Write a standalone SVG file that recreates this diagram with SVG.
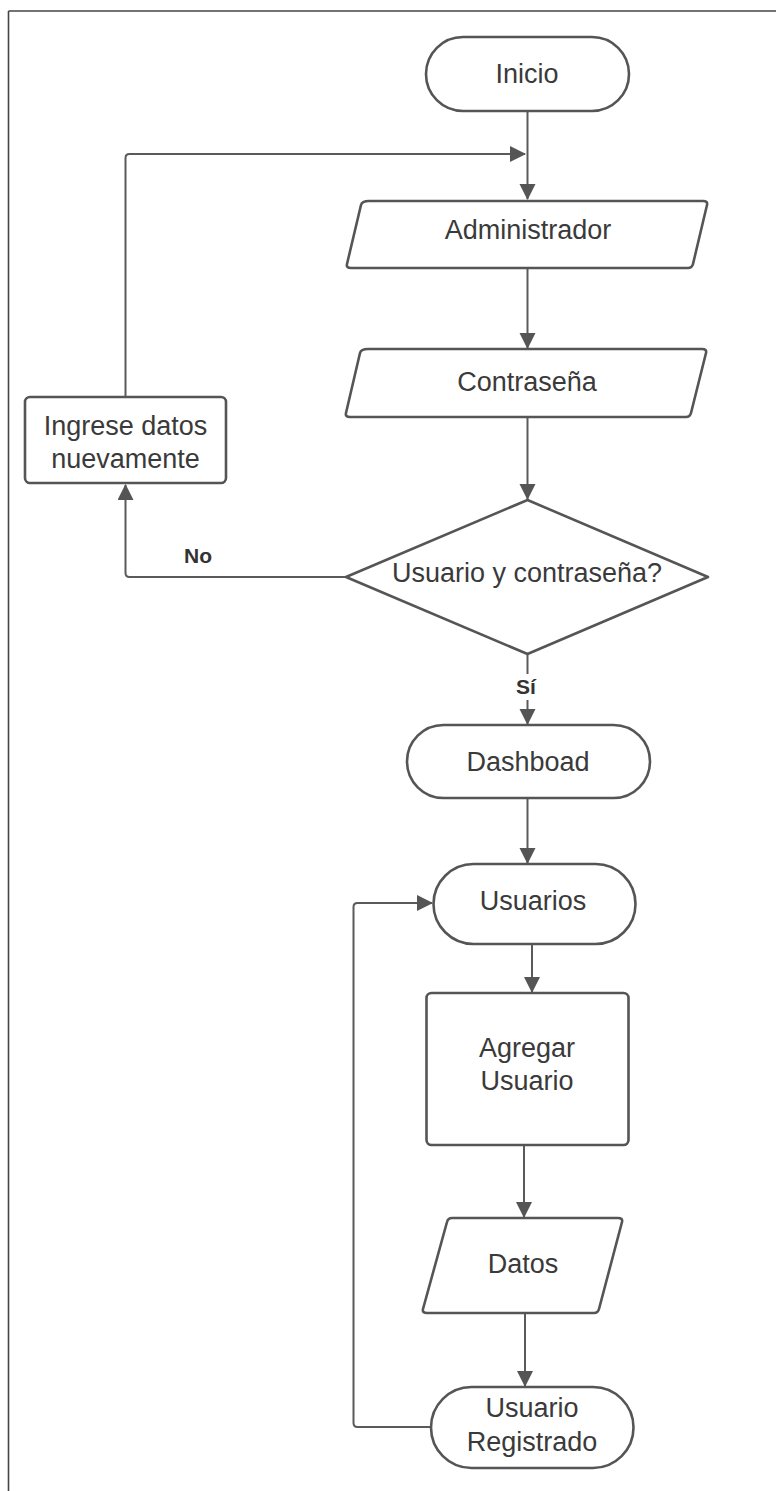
<svg xmlns="http://www.w3.org/2000/svg" width="776" height="1491" viewBox="0 0 776 1491">
<defs>
<marker id="ah" markerWidth="16" markerHeight="20" viewBox="0 0 16 20" refX="15" refY="8" orient="auto" markerUnits="userSpaceOnUse">
<path d="M0,0 L16,8 L0,16 Z" fill="#555"/>
</marker>
<style>
.shape{fill:#fff;stroke:#555;stroke-width:2.6;stroke-linejoin:round}
.conn{fill:none;stroke:#5a5a5a;stroke-width:2;stroke-linejoin:round}
.t{font-family:"Liberation Sans",Arial,sans-serif;font-size:27px;fill:#3a3a3a;text-anchor:middle}
.lbl{font-family:"Liberation Sans",Arial,sans-serif;font-size:21px;font-weight:bold;fill:#333;text-anchor:middle}
</style>
</defs>
<rect width="776" height="1491" fill="#fff"/>
<g id="frame" fill="none" stroke="#444" stroke-width="1.6">
<line x1="8.5" y1="11" x2="776" y2="11"/>
<line x1="8.5" y1="11" x2="8.5" y2="1491"/>
</g>
<g id="connectors">
<path class="conn" d="M527.5,111 V199" marker-end="url(#ah)"/>
<path class="conn" d="M125.5,397 V158 Q125.5,154 129.5,154 H525" marker-end="url(#ah)"/>
<path class="conn" d="M527.5,268 V348" marker-end="url(#ah)"/>
<path class="conn" d="M527.5,417 V499" marker-end="url(#ah)"/>
<path class="conn" d="M346,577 H129.5 Q125.5,577 125.5,573 V485" marker-end="url(#ah)"/>
<path class="conn" d="M527.5,654 V724" marker-end="url(#ah)"/>
<path class="conn" d="M527.5,798 V863" marker-end="url(#ah)"/>
<path class="conn" d="M532,944 V992" marker-end="url(#ah)"/>
<path class="conn" d="M524,1145 V1217" marker-end="url(#ah)"/>
<path class="conn" d="M525,1313 V1386" marker-end="url(#ah)"/>
<path class="conn" d="M431,1427 H357.5 Q353.5,1427 353.5,1423 V907 Q353.5,903 357.5,903 H432" marker-end="url(#ah)"/>
<rect x="512" y="674" width="28" height="26" fill="#fff"/>
<text class="lbl" x="526" y="694">Sí</text>
<text class="lbl" x="198" y="563">No</text>
</g>
<g id="n-inicio">
<rect class="shape" x="426" y="37" width="203" height="74" rx="37"/>
<text class="t" x="527" y="83">Inicio</text>
</g>
<g id="n-administrador">
<path class="shape" d="M369,201 H703 Q708,201 707,205 L693,264 Q692,268 688,268 H351 Q346,268 347,264 L361,205 Q362,201 369,201 Z"/>
<text class="t" x="528" y="239">Administrador</text>
</g>
<g id="n-contrasena">
<path class="shape" d="M368,349 H702 Q707,349 706,353 L691,413 Q690,417 686,417 H350 Q345,417 346,413 L360,353 Q361,349 368,349 Z"/>
<text class="t" x="527" y="391">Contraseña</text>
</g>
<g id="n-ingrese">
<rect class="shape" x="25" y="397" width="201" height="86" rx="5"/>
<text class="t" x="125.5" y="435">Ingrese datos</text>
<text class="t" x="125.5" y="468">nuevamente</text>
</g>
<g id="n-decision">
<path class="shape" d="M527.5,500 L708,577 L527.5,654 L346,577 Z"/>
<text class="t" x="527" y="582">Usuario y contraseña?</text>
</g>
<g id="n-dashboad">
<rect class="shape" x="407" y="725" width="243" height="73" rx="36.5"/>
<text class="t" x="528" y="771">Dashboad</text>
</g>
<g id="n-usuarios">
<rect class="shape" x="433.5" y="864" width="202" height="80" rx="40"/>
<text class="t" x="533" y="910">Usuarios</text>
</g>
<g id="n-agregar">
<rect class="shape" x="426.5" y="993" width="202" height="152" rx="5"/>
<text class="t" x="527" y="1057">Agregar</text>
<text class="t" x="527" y="1090">Usuario</text>
</g>
<g id="n-datos">
<path class="shape" d="M452,1218 H618 Q623,1218 622,1222 L599,1309 Q598,1313 594,1313 H427 Q422,1313 423,1309 L447,1222 Q448,1218 452,1218 Z"/>
<text class="t" x="523" y="1273">Datos</text>
</g>
<g id="n-registrado">
<rect class="shape" x="431" y="1387" width="202.5" height="81" rx="40.5"/>
<text class="t" x="532" y="1417">Usuario</text>
<text class="t" x="532" y="1451">Registrado</text>
</g>
</svg>
